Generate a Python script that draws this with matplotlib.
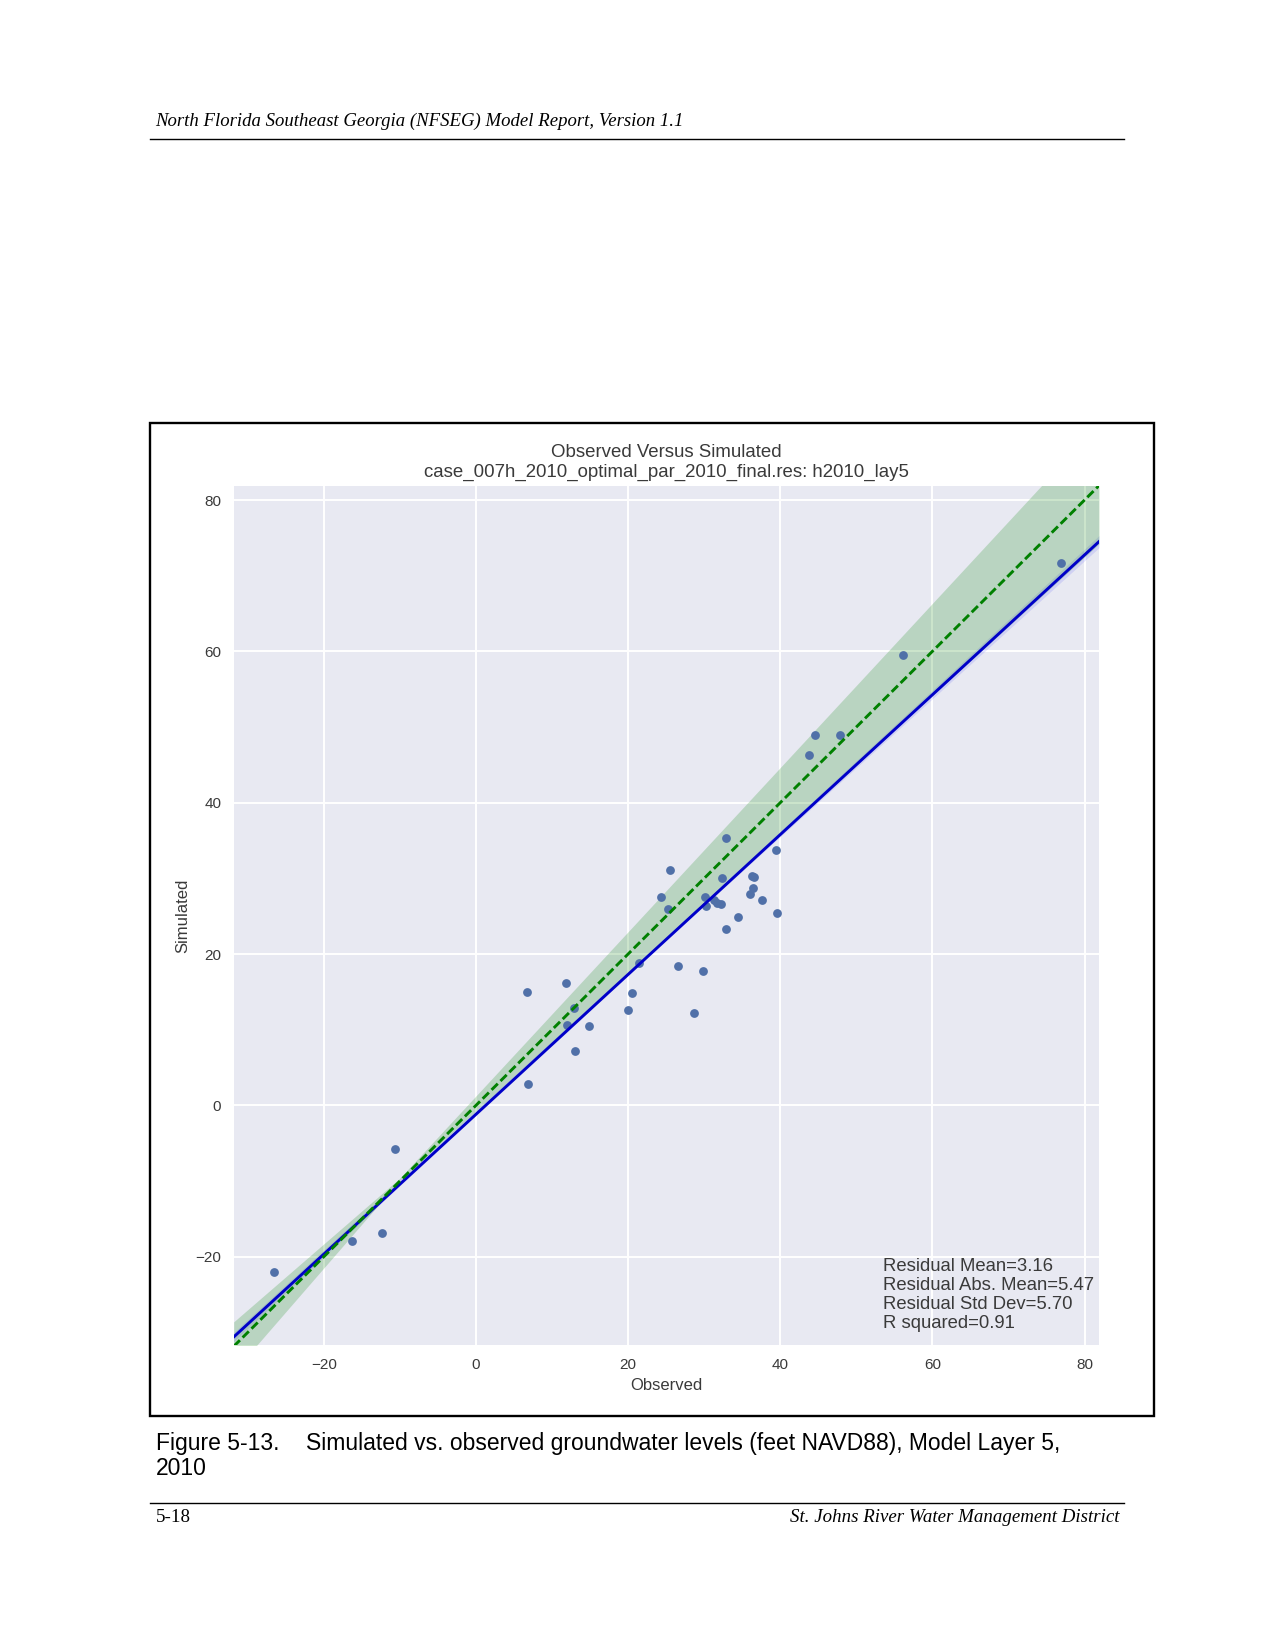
import numpy as np
import matplotlib
matplotlib.use("Agg")
import matplotlib.pyplot as plt
from matplotlib.lines import Line2D
from matplotlib.patches import Rectangle

# values
observed = [-26.6, -16.3, -12.4, -10.6,
            6.7, 6.9, 11.8, 12.0, 12.9, 13.0, 14.9, 20.0, 20.5, 21.4,
            26.6, 28.7, 29.9, 24.3, 25.2, 25.5, 30.1, 30.3, 31.3, 31.7,
            32.2, 32.3, 32.9, 32.9, 34.5, 36.0, 36.3, 36.5, 36.4, 37.6,
            39.4, 39.6, 43.8, 44.6, 47.9, 56.1, 76.9]
simulated = [-22.0, -17.9, -16.9, -5.8,
             15.0, 2.8, 16.2, 10.6, 12.9, 7.2, 10.5, 12.6, 14.8, 18.8,
             18.4, 12.2, 17.8, 27.6, 26.0, 31.1, 27.5, 26.4, 27.2, 26.8,
             26.6, 30.1, 35.3, 23.3, 24.9, 27.9, 30.3, 30.2, 28.7, 27.2,
             33.7, 25.4, 46.3, 48.9, 48.9, 59.5, 71.7]

fit_x = [-31.84, 81.9]
fit_y = [-30.6, 74.5]
fit_ci_x = [-31.84, -10, 30, 81.9]
fit_ci_lower = [-31.2, -10.6, 26.4, 73.7]
fit_ci_upper = [-30.0, -9.9, 26.9, 75.3]

one_to_one = [-31.84, 81.9]
band_x = [-31.84, -10, 81.9]
band_lower = [-35.2, -9.9, 74.2]
band_upper = [-28.6, -9.6, 90.1]

x_ticks = [-20, 0, 20, 40, 60, 80]
y_ticks = [-20, 0, 20, 40, 60, 80]
stats_lines = ["Residual Mean=3.16", "Residual Abs. Mean=5.47",
               "Residual Std Dev=5.70", "R squared=0.91"]

W, H = 1275, 1651
SANS = "Liberation Sans"
SERIF = "Liberation Serif"
TEXT = "#3a3a3a"


def page_text(fig, x, y, s, **kw):
    """Text placed in page pixels, y measured from the top."""
    fig.text(x / W, 1 - y / H, s, va="center", **kw)


def page_rule(fig, x0, x1, y, lw=1.0):
    fig.add_artist(Line2D([x0 / W, x1 / W], [1 - y / H, 1 - y / H],
                          color="black", lw=lw))


fig = plt.figure(figsize=(W / 100, H / 100), dpi=100, facecolor="white")

# page furniture
page_text(fig, 155, 121, "North Florida Southeast Georgia (NFSEG) Model Report, Version 1.1",
          family=SERIF, style="italic", fontsize=13.5, color="black")
page_rule(fig, 150, 1124, 139.5)
page_rule(fig, 150, 1124, 1502.5)
page_text(fig, 156, 1443, "Figure 5-13.", family=SANS, fontsize=16.5, color="black")
page_text(fig, 306, 1443, "Simulated vs. observed groundwater levels (feet NAVD88), Model Layer 5,",
          family=SANS, fontsize=16.5, color="black")
page_text(fig, 156, 1468, "2010", family=SANS, fontsize=16.5, color="black")
page_text(fig, 156, 1517, "5-18", family=SERIF, fontsize=13.7, color="black")
fig.text(1119 / W, 1 - 1517 / H, "St. Johns River Water Management District",
         family=SERIF, style="italic", fontsize=13.6, color="black", ha="right", va="center")
fig.add_artist(Rectangle((150 / W, 1 - 1415.5 / H), 1004 / W, 992.5 / H, fill=False,
                         edgecolor="black", lw=1.7, transform=fig.transFigure))

# the plot itself
ax = fig.add_axes([233.7 / W, 1 - 1345 / H, 865.3 / W, 859 / H], facecolor="#E8E9F2")
ax.set_axisbelow(True)
ax.grid(color="white", lw=1.4)
ax.fill_between(fit_ci_x, fit_ci_lower, fit_ci_upper, color="blue", alpha=0.1,
                linewidth=0, zorder=2)
ax.fill_between(band_x, band_lower, band_upper, color="green", alpha=0.2,
                linewidth=0, zorder=2)
ax.scatter(observed, simulated, s=40, color="#5070A8", linewidths=0, zorder=3)
ax.plot(fit_x, fit_y, color="#0000C8", lw=2.1, zorder=4)
ax.plot(one_to_one, one_to_one, color="green", lw=2.1, dashes=(3.0, 1.3), zorder=5)

ax.set_xlim(-31.84, 81.9)
ax.set_ylim(-31.66, 81.85)
ax.set_xticks(x_ticks)
ax.set_yticks(y_ticks)
ax.tick_params(axis="x", length=0, pad=9, labelsize=11, labelcolor=TEXT)
ax.tick_params(axis="y", length=0, pad=9, labelsize=11, labelcolor=TEXT)
for lab in ax.get_xticklabels() + ax.get_yticklabels():
    lab.set_family(SANS)
for s in ax.spines.values():
    s.set_visible(False)

ax.set_xlabel("Observed", family=SANS, fontsize=12, color=TEXT, labelpad=4.5)
ax.set_ylabel("Simulated", family=SANS, fontsize=12, color=TEXT, labelpad=3.5)
ax.set_title("Observed Versus Simulated\ncase_007h_2010_optimal_par_2010_final.res: h2010_lay5",
             family=SANS, fontsize=13.4, color=TEXT, pad=6.5, linespacing=1.2)
ax.text(53.45, -30.0, "\n".join(stats_lines), family=SANS, fontsize=13.35, color=TEXT,
        ha="left", va="bottom", linespacing=1.16)

plt.savefig("out.png", dpi=100)
plt.close(fig)
